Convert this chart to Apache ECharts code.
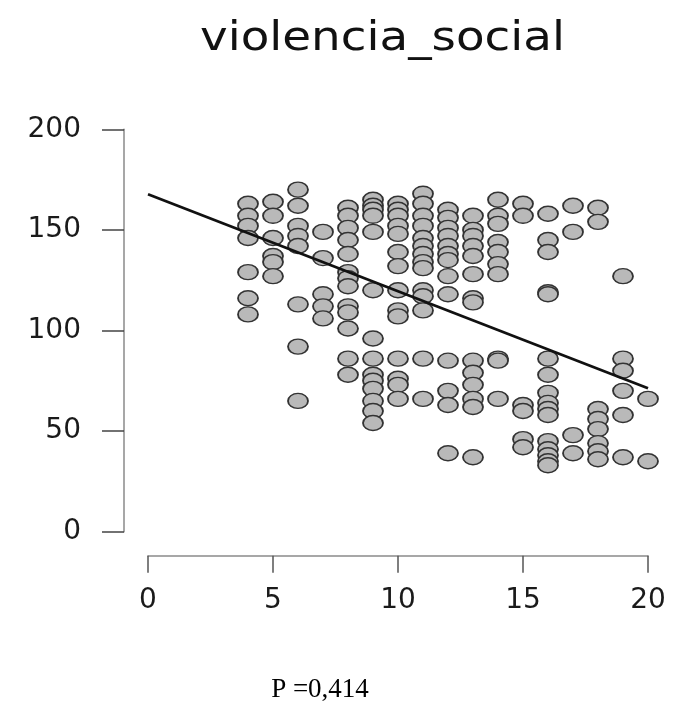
<!DOCTYPE html>
<html>
<head>
<meta charset="utf-8">
<script src="https://cdn.jsdelivr.net/npm/echarts@6/dist/echarts.min.js"></script>
<style>
html,body{margin:0;padding:0;background:#fff;}
#chart{width:674px;height:713px;}
</style>
</head>
<body>
<div id="chart"></div>
<script>
// Tick labels
const xTicks = [0, 5, 10, 15, 20];
const yTicks = [0, 50, 100, 150, 200];

// Scatter values, one array per x value
const xColumns = [4, 5, 6, 7, 8, 9, 10, 11, 12, 13, 14, 15, 16, 17, 18, 19, 20];
const yAt4  = [163, 157, 152, 146, 129, 116, 108];
const yAt5  = [164, 157, 146, 137, 134, 127];
const yAt6  = [170, 162, 152, 147, 142, 113, 92, 65];
const yAt7  = [149, 136, 118, 112, 106];
const yAt8  = [161, 157, 151, 145, 138, 129, 126, 122, 112, 109, 101, 86, 78];
const yAt9  = [165, 162, 160, 157, 149, 120, 96, 86, 78, 75, 71, 65, 60, 54];
const yAt10 = [163, 160, 157, 152, 148, 139, 132, 120, 110, 107, 86, 76, 73, 66];
const yAt11 = [168, 163, 157, 152, 146, 142, 138, 134, 131, 120, 117, 110, 86, 66];
const yAt12 = [160, 156, 151, 147, 142, 138, 135, 127, 118, 85, 70, 63, 39];
const yAt13 = [157, 150, 147, 142, 137, 128, 116, 114, 85, 79, 73, 66, 62, 37];
const yAt14 = [165, 157, 153, 144, 139, 133, 128, 86, 85, 66];
const yAt15 = [163, 157, 63, 60, 46, 42];
const yAt16 = [158, 145, 139, 119, 118, 86, 78, 69, 64, 61, 58, 45, 41, 38, 35, 33];
const yAt17 = [162, 149, 48, 39];
const yAt18 = [161, 154, 61, 56, 51, 44, 40, 36];
const yAt19 = [127, 86, 80, 70, 58, 37];
const yAt20 = [66, 35];
const yColumns = [yAt4, yAt5, yAt6, yAt7, yAt8, yAt9, yAt10, yAt11, yAt12, yAt13, yAt14, yAt15, yAt16, yAt17, yAt18, yAt19, yAt20];

// Regression line end points
const lineX = [0, 20];
const lineY = [167.7, 71.3];

const titleText = 'violencia_social';
const pText = 'P =0,414';

const points = [];
xColumns.forEach((x, i) => yColumns[i].forEach(y => points.push([x, y])));
const linePts = lineX.map((x, i) => [x, lineY[i]]);

const chart = echarts.init(document.getElementById('chart'), null, {renderer: 'canvas'});
const axisGray = '#8a8a8a';
chart.setOption({
  animation: false,
  backgroundColor: '#ffffff',
  grid: {left: 148, right: 26, top: 129.3, bottom: 181.3, containLabel: false},
  xAxis: {
    type: 'value', min: xTicks[0], max: xTicks[xTicks.length - 1], interval: 5,
    offset: 24,
    axisLine: {show: true, onZero: false, lineStyle: {color: axisGray, width: 1.5}},
    axisTick: {show: true, length: 17, lineStyle: {color: '#555', width: 1.5}},
    axisLabel: {margin: 31, color: '#1a1a1a', fontSize: 28, fontFamily: 'DejaVu Sans'},
    splitLine: {show: false}
  },
  yAxis: {
    type: 'value', min: yTicks[0], max: yTicks[yTicks.length - 1], interval: 50,
    offset: 24,
    axisLine: {show: true, onZero: false, lineStyle: {color: axisGray, width: 1.5}},
    axisTick: {show: true, length: 22, lineStyle: {color: '#444', width: 1.5}},
    axisLabel: {margin: 43, color: '#1a1a1a', fontSize: 28, fontFamily: 'DejaVu Sans'},
    splitLine: {show: false}
  },
  series: [
    {
      type: 'scatter',
      data: points,
      symbol: 'path://M0,10 A10,10 0 1,1 20,10 A10,10 0 1,1 0,10 Z',
      symbolSize: [20, 15],
      itemStyle: {color: '#b9b9b9', borderColor: '#333', borderWidth: 1.6, opacity: 1},
      z: 2
    },
    {
      type: 'line',
      data: linePts,
      symbol: 'none',
      lineStyle: {color: '#111', width: 2.8},
      z: 3
    }
  ],
  graphic: [
    {
      type: 'text', x: 382.5, y: 40, scaleX: 1.17,
      style: {text: titleText, fontSize: 40, fontFamily: 'DejaVu Sans', fill: '#111',
              align: 'center', verticalAlign: 'middle'}
    },
    {
      type: 'text', x: 320, y: 690,
      style: {text: pText, fontSize: 27, fontFamily: 'Liberation Serif', fill: '#000',
              align: 'center', verticalAlign: 'middle'}
    }
  ]
});
</script>
</body>
</html>
